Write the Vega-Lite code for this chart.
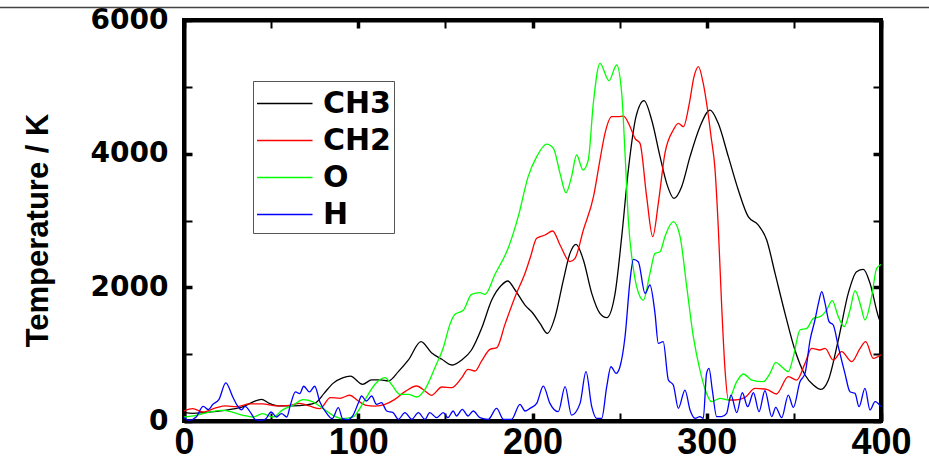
{
  "$schema": "https://vega.github.io/schema/vega-lite/v6.json",
  "width": 697,
  "height": 401,
  "autosize": "none",
  "padding": {"left": 184, "top": 20, "right": 48, "bottom": 39},
  "background": "white",
  "config": {
    "view": {"stroke": "black", "strokeWidth": 4},
    "axis": {"grid": false, "domainColor": "black", "domainWidth": 4, "tickColor": "black", "tickWidth": 2.5, "tickSize": -8, "labelColor": "black", "titleColor": "black", "labelFlush": false, "labelOverlap": false, "labelBound": false}
  },
  "datasets": {
    "temps": [
      {"s":"CH3","x":0,"y":130},{"s":"CH3","x":5,"y":115},{"s":"CH3","x":11,"y":125},{"s":"CH3","x":18.6,"y":145},{"s":"CH3","x":26,"y":170},{"s":"CH3","x":34,"y":215},{"s":"CH3","x":40,"y":290},{"s":"CH3","x":44.4,"y":325},{"s":"CH3","x":49,"y":265},{"s":"CH3","x":55,"y":225},{"s":"CH3","x":62.6,"y":225},{"s":"CH3","x":70,"y":240},{"s":"CH3","x":75.6,"y":275},{"s":"CH3","x":80.4,"y":414},{"s":"CH3","x":85.5,"y":563},{"s":"CH3","x":91,"y":645},{"s":"CH3","x":95.5,"y":670},{"s":"CH3","x":102.5,"y":549},{"s":"CH3","x":107.7,"y":614},{"s":"CH3","x":112.5,"y":614},{"s":"CH3","x":117.3,"y":599},{"s":"CH3","x":123,"y":739},{"s":"CH3","x":128.8,"y":914},{"s":"CH3","x":136,"y":1187},{"s":"CH3","x":142,"y":1022},{"s":"CH3","x":148,"y":923},{"s":"CH3","x":153.6,"y":838},{"s":"CH3","x":159.4,"y":914},{"s":"CH3","x":165,"y":1062},{"s":"CH3","x":170.8,"y":1387},{"s":"CH3","x":176.6,"y":1810},{"s":"CH3","x":182.3,"y":2035},{"s":"CH3","x":185.8,"y":2095},{"s":"CH3","x":190,"y":1960},{"s":"CH3","x":195.7,"y":1735},{"s":"CH3","x":200,"y":1620},{"s":"CH3","x":204.3,"y":1461},{"s":"CH3","x":208.5,"y":1311},{"s":"CH3","x":213,"y":1561},{"s":"CH3","x":217.7,"y":2109},{"s":"CH3","x":221.5,"y":2508},{"s":"CH3","x":225,"y":2643},{"s":"CH3","x":229.2,"y":2409},{"s":"CH3","x":234,"y":1910},{"s":"CH3","x":238.7,"y":1611},{"s":"CH3","x":242.6,"y":1546},{"s":"CH3","x":247.4,"y":1910},{"s":"CH3","x":251.2,"y":2758},{"s":"CH3","x":255,"y":3755},{"s":"CH3","x":259.4,"y":4553},{"s":"CH3","x":264,"y":4793},{"s":"CH3","x":268.4,"y":4504},{"s":"CH3","x":273.2,"y":3955},{"s":"CH3","x":277,"y":3556},{"s":"CH3","x":281.2,"y":3331},{"s":"CH3","x":285.6,"y":3506},{"s":"CH3","x":290.4,"y":3955},{"s":"CH3","x":296.1,"y":4404},{"s":"CH3","x":301.9,"y":4653},{"s":"CH3","x":306.6,"y":4454},{"s":"CH3","x":312.4,"y":3955},{"s":"CH3","x":318.1,"y":3456},{"s":"CH3","x":323.8,"y":3057},{"s":"CH3","x":329.6,"y":2932},{"s":"CH3","x":334.4,"y":2708},{"s":"CH3","x":339.2,"y":2209},{"s":"CH3","x":344.9,"y":1611},{"s":"CH3","x":350.6,"y":1062},{"s":"CH3","x":356.4,"y":688},{"s":"CH3","x":361.2,"y":538},{"s":"CH3","x":365.5,"y":473},{"s":"CH3","x":369.8,"y":613},{"s":"CH3","x":375.5,"y":1212},{"s":"CH3","x":381.2,"y":1910},{"s":"CH3","x":386,"y":2234},{"s":"CH3","x":389.9,"y":2269},{"s":"CH3","x":393.7,"y":2060},{"s":"CH3","x":398.5,"y":1561},{"s":"CH3","x":400,"y":1460},
      {"s":"CH2","x":0,"y":150},{"s":"CH2","x":5,"y":185},{"s":"CH2","x":11,"y":135},{"s":"CH2","x":18.6,"y":200},{"s":"CH2","x":24,"y":225},{"s":"CH2","x":30,"y":215},{"s":"CH2","x":37.7,"y":255},{"s":"CH2","x":45,"y":255},{"s":"CH2","x":53,"y":225},{"s":"CH2","x":60.6,"y":235},{"s":"CH2","x":66.4,"y":265},{"s":"CH2","x":72,"y":225},{"s":"CH2","x":78,"y":185},{"s":"CH2","x":84,"y":350},{"s":"CH2","x":89.5,"y":340},{"s":"CH2","x":95,"y":385},{"s":"CH2","x":100,"y":300},{"s":"CH2","x":104,"y":239},{"s":"CH2","x":109.6,"y":224},{"s":"CH2","x":115.3,"y":249},{"s":"CH2","x":121,"y":324},{"s":"CH2","x":126.8,"y":439},{"s":"CH2","x":133.5,"y":524},{"s":"CH2","x":138.3,"y":449},{"s":"CH2","x":142,"y":384},{"s":"CH2","x":148,"y":509},{"s":"CH2","x":153.6,"y":499},{"s":"CH2","x":159.4,"y":648},{"s":"CH2","x":163,"y":773},{"s":"CH2","x":167,"y":748},{"s":"CH2","x":170.8,"y":898},{"s":"CH2","x":175.6,"y":1072},{"s":"CH2","x":179.5,"y":1097},{"s":"CH2","x":184.2,"y":1446},{"s":"CH2","x":190,"y":1860},{"s":"CH2","x":195.7,"y":2210},{"s":"CH2","x":198.6,"y":2434},{"s":"CH2","x":202.4,"y":2733},{"s":"CH2","x":207.2,"y":2783},{"s":"CH2","x":211.6,"y":2843},{"s":"CH2","x":215.8,"y":2633},{"s":"CH2","x":221.5,"y":2384},{"s":"CH2","x":224.4,"y":2434},{"s":"CH2","x":229.2,"y":2858},{"s":"CH2","x":235,"y":3356},{"s":"CH2","x":238.7,"y":3905},{"s":"CH2","x":241.6,"y":4304},{"s":"CH2","x":245.5,"y":4553},{"s":"CH2","x":249.3,"y":4553},{"s":"CH2","x":252.2,"y":4563},{"s":"CH2","x":256,"y":4404},{"s":"CH2","x":258.8,"y":4229},{"s":"CH2","x":261.7,"y":4154},{"s":"CH2","x":265.5,"y":3356},{"s":"CH2","x":269,"y":2758},{"s":"CH2","x":272.2,"y":3257},{"s":"CH2","x":276,"y":4005},{"s":"CH2","x":280.8,"y":4354},{"s":"CH2","x":283.7,"y":4454},{"s":"CH2","x":286.6,"y":4404},{"s":"CH2","x":290,"y":4753},{"s":"CH2","x":292.7,"y":5152},{"s":"CH2","x":295.2,"y":5302},{"s":"CH2","x":298,"y":5050},{"s":"CH2","x":300.5,"y":4650},{"s":"CH2","x":302.5,"y":4250},{"s":"CH2","x":304.7,"y":3780},{"s":"CH2","x":306.6,"y":2907},{"s":"CH2","x":308.5,"y":1760},{"s":"CH2","x":310.5,"y":762},{"s":"CH2","x":312.4,"y":314},{"s":"CH2","x":316.2,"y":314},{"s":"CH2","x":322,"y":354},{"s":"CH2","x":327.7,"y":488},{"s":"CH2","x":334.4,"y":473},{"s":"CH2","x":340,"y":404},{"s":"CH2","x":346.8,"y":663},{"s":"CH2","x":351.6,"y":613},{"s":"CH2","x":356.4,"y":862},{"s":"CH2","x":360.2,"y":1087},{"s":"CH2","x":365,"y":1062},{"s":"CH2","x":367.9,"y":1087},{"s":"CH2","x":372.6,"y":912},{"s":"CH2","x":377.4,"y":1037},{"s":"CH2","x":383.2,"y":887},{"s":"CH2","x":388,"y":1087},{"s":"CH2","x":391.2,"y":1187},{"s":"CH2","x":395.6,"y":937},{"s":"CH2","x":400,"y":990},
      {"s":"O","x":0,"y":60},{"s":"O","x":7,"y":85},{"s":"O","x":15,"y":135},{"s":"O","x":22,"y":160},{"s":"O","x":28,"y":130},{"s":"O","x":34,"y":85},{"s":"O","x":39.6,"y":60},{"s":"O","x":45,"y":110},{"s":"O","x":51,"y":60},{"s":"O","x":56.8,"y":170},{"s":"O","x":62.6,"y":235},{"s":"O","x":68.3,"y":320},{"s":"O","x":74,"y":285},{"s":"O","x":79.8,"y":185},{"s":"O","x":85.5,"y":85},{"s":"O","x":91,"y":35},{"s":"O","x":97,"y":60},{"s":"O","x":100,"y":150},{"s":"O","x":104,"y":324},{"s":"O","x":109.6,"y":549},{"s":"O","x":115.3,"y":648},{"s":"O","x":119,"y":549},{"s":"O","x":124,"y":399},{"s":"O","x":128.8,"y":399},{"s":"O","x":133.5,"y":359},{"s":"O","x":138.3,"y":474},{"s":"O","x":144,"y":798},{"s":"O","x":148.8,"y":1097},{"s":"O","x":152.6,"y":1446},{"s":"O","x":155.5,"y":1596},{"s":"O","x":160.3,"y":1656},{"s":"O","x":165,"y":1895},{"s":"O","x":169.8,"y":1920},{"s":"O","x":172.7,"y":1895},{"s":"O","x":178.5,"y":2195},{"s":"O","x":186,"y":2584},{"s":"O","x":191.8,"y":3058},{"s":"O","x":197.5,"y":3657},{"s":"O","x":202.4,"y":3955},{"s":"O","x":208.1,"y":4144},{"s":"O","x":212,"y":4080},{"s":"O","x":215.8,"y":3706},{"s":"O","x":219.2,"y":3416},{"s":"O","x":222.4,"y":3656},{"s":"O","x":225.3,"y":3980},{"s":"O","x":229,"y":3755},{"s":"O","x":232,"y":3905},{"s":"O","x":234.9,"y":4753},{"s":"O","x":238.7,"y":5352},{"s":"O","x":243.9,"y":5092},{"s":"O","x":248.3,"y":5327},{"s":"O","x":251.2,"y":4903},{"s":"O","x":253.1,"y":4005},{"s":"O","x":255,"y":3007},{"s":"O","x":258,"y":2259},{"s":"O","x":261.7,"y":1860},{"s":"O","x":263.6,"y":1810},{"s":"O","x":267.4,"y":2209},{"s":"O","x":270.3,"y":2508},{"s":"O","x":273.2,"y":2533},{"s":"O","x":276,"y":2758},{"s":"O","x":280.8,"y":2982},{"s":"O","x":284.7,"y":2758},{"s":"O","x":288.5,"y":2010},{"s":"O","x":292.3,"y":1261},{"s":"O","x":296.1,"y":762},{"s":"O","x":299,"y":480},{"s":"O","x":302.8,"y":289},{"s":"O","x":307.6,"y":339},{"s":"O","x":312.4,"y":314},{"s":"O","x":317.2,"y":588},{"s":"O","x":321,"y":703},{"s":"O","x":325.8,"y":613},{"s":"O","x":332.5,"y":588},{"s":"O","x":336.3,"y":713},{"s":"O","x":339.6,"y":877},{"s":"O","x":343,"y":812},{"s":"O","x":346.8,"y":738},{"s":"O","x":349.7,"y":962},{"s":"O","x":353.5,"y":1361},{"s":"O","x":357.4,"y":1386},{"s":"O","x":361.2,"y":1536},{"s":"O","x":365,"y":1561},{"s":"O","x":368.8,"y":1660},{"s":"O","x":372,"y":1800},{"s":"O","x":375.5,"y":1561},{"s":"O","x":378.9,"y":1411},{"s":"O","x":382.2,"y":1660},{"s":"O","x":385.1,"y":1950},{"s":"O","x":388.5,"y":1710},{"s":"O","x":390.8,"y":1511},{"s":"O","x":394.6,"y":1860},{"s":"O","x":397.5,"y":2284},{"s":"O","x":400,"y":2340},
      {"s":"H","x":0,"y":50},{"s":"H","x":3,"y":10},{"s":"H","x":7,"y":60},{"s":"H","x":11,"y":220},{"s":"H","x":14,"y":170},{"s":"H","x":16.6,"y":250},{"s":"H","x":20,"y":320},{"s":"H","x":24,"y":570},{"s":"H","x":28,"y":360},{"s":"H","x":31,"y":215},{"s":"H","x":33,"y":165},{"s":"H","x":35,"y":220},{"s":"H","x":38.6,"y":110},{"s":"H","x":41,"y":20},{"s":"H","x":44.4,"y":10},{"s":"H","x":47,"y":35},{"s":"H","x":50,"y":135},{"s":"H","x":53,"y":60},{"s":"H","x":56,"y":110},{"s":"H","x":59,"y":60},{"s":"H","x":61,"y":235},{"s":"H","x":64,"y":435},{"s":"H","x":66.4,"y":410},{"s":"H","x":68.7,"y":520},{"s":"H","x":72,"y":435},{"s":"H","x":75,"y":520},{"s":"H","x":78,"y":285},{"s":"H","x":82,"y":110},{"s":"H","x":85,"y":35},{"s":"H","x":88.6,"y":200},{"s":"H","x":91,"y":35},{"s":"H","x":94,"y":20},{"s":"H","x":97,"y":85},{"s":"H","x":100,"y":265},{"s":"H","x":101.9,"y":374},{"s":"H","x":104.6,"y":299},{"s":"H","x":107.7,"y":374},{"s":"H","x":110.5,"y":249},{"s":"H","x":113.4,"y":274},{"s":"H","x":116.3,"y":150},{"s":"H","x":120,"y":125},{"s":"H","x":123,"y":25},{"s":"H","x":126.8,"y":125},{"s":"H","x":130.7,"y":25},{"s":"H","x":134.5,"y":125},{"s":"H","x":138.3,"y":25},{"s":"H","x":141,"y":125},{"s":"H","x":145,"y":50},{"s":"H","x":148.8,"y":125},{"s":"H","x":151.5,"y":50},{"s":"H","x":154.5,"y":150},{"s":"H","x":156.4,"y":75},{"s":"H","x":159.7,"y":174},{"s":"H","x":163,"y":75},{"s":"H","x":166,"y":150},{"s":"H","x":169.8,"y":50},{"s":"H","x":174.6,"y":25},{"s":"H","x":179.4,"y":189},{"s":"H","x":183.3,"y":25},{"s":"H","x":188,"y":25},{"s":"H","x":192.8,"y":249},{"s":"H","x":195.7,"y":150},{"s":"H","x":198.6,"y":189},{"s":"H","x":202.4,"y":264},{"s":"H","x":206.2,"y":523},{"s":"H","x":210,"y":264},{"s":"H","x":214.8,"y":139},{"s":"H","x":218.7,"y":513},{"s":"H","x":222.4,"y":89},{"s":"H","x":227.3,"y":264},{"s":"H","x":230.7,"y":738},{"s":"H","x":234,"y":214},{"s":"H","x":236.8,"y":40},{"s":"H","x":239.7,"y":40},{"s":"H","x":242.6,"y":513},{"s":"H","x":245,"y":812},{"s":"H","x":248,"y":713},{"s":"H","x":250.2,"y":812},{"s":"H","x":253.1,"y":1261},{"s":"H","x":256,"y":2109},{"s":"H","x":257.9,"y":2419},{"s":"H","x":260.7,"y":2384},{"s":"H","x":264.6,"y":1910},{"s":"H","x":267.4,"y":2035},{"s":"H","x":270.3,"y":1611},{"s":"H","x":272.2,"y":1162},{"s":"H","x":275,"y":1187},{"s":"H","x":278,"y":613},{"s":"H","x":280.8,"y":538},{"s":"H","x":283.7,"y":189},{"s":"H","x":287.5,"y":463},{"s":"H","x":290.4,"y":164},{"s":"H","x":293.3,"y":40},{"s":"H","x":296.1,"y":65},{"s":"H","x":298,"y":40},{"s":"H","x":299.9,"y":713},{"s":"H","x":301.3,"y":788},{"s":"H","x":303.2,"y":463},{"s":"H","x":305.7,"y":65},{"s":"H","x":308.5,"y":65},{"s":"H","x":311.4,"y":115},{"s":"H","x":313.9,"y":388},{"s":"H","x":317.2,"y":124},{"s":"H","x":320.4,"y":423},{"s":"H","x":323.5,"y":214},{"s":"H","x":326.8,"y":423},{"s":"H","x":330,"y":139},{"s":"H","x":333.4,"y":453},{"s":"H","x":337.3,"y":65},{"s":"H","x":339.6,"y":204},{"s":"H","x":343,"y":50},{"s":"H","x":346.8,"y":388},{"s":"H","x":349.7,"y":204},{"s":"H","x":353.5,"y":588},{"s":"H","x":356.4,"y":713},{"s":"H","x":359.3,"y":1212},{"s":"H","x":362.1,"y":1511},{"s":"H","x":364.1,"y":1760},{"s":"H","x":366,"y":1935},{"s":"H","x":367.9,"y":1760},{"s":"H","x":370.2,"y":1486},{"s":"H","x":372.6,"y":1436},{"s":"H","x":375.5,"y":1112},{"s":"H","x":379.3,"y":713},{"s":"H","x":382.2,"y":438},{"s":"H","x":385.1,"y":413},{"s":"H","x":387.4,"y":214},{"s":"H","x":390.8,"y":488},{"s":"H","x":393.7,"y":164},{"s":"H","x":396.6,"y":289},{"s":"H","x":400,"y":214}
    ]
  },
  "layer": [
    {
      "data": {"name": "temps"},
      "mark": {"type": "line", "interpolate": "monotone", "strokeWidth": 1.3, "clip": true},
      "encoding": {
        "x": {
          "field": "x", "type": "quantitative",
          "scale": {"domain": [0, 400], "nice": false, "zero": false},
          "axis": {
            "orient": "bottom", "title": null,
            "domainWidth": 4, "domainColor": "black",
            "values": [0, 50, 100, 150, 200, 250, 300, 350, 400],
            "labelExpr": "datum.value % 100 === 0 ? datum.label : ''",
            "format": "d",
            "labelFont": "Liberation Sans", "labelFontWeight": "bold", "labelFontSize": 36,
            "labelPadding": 12,
            "tickWidth": {"condition": {"test": "datum.value % 100 === 0", "value": 3.5}, "value": 2}
          }
        },
        "y": {
          "field": "y", "type": "quantitative",
          "scale": {"domain": [0, 6000], "nice": false, "zero": false},
          "axis": {
            "orient": "left",
            "title": "Temperature / K",
            "domainWidth": 4, "domainColor": "black",
            "values": [0, 1000, 2000, 3000, 4000, 5000, 6000],
            "labelExpr": "datum.value % 2000 === 0 ? datum.label : ''",
            "format": "d",
            "labelFont": "DejaVu Sans", "labelFontWeight": "bold", "labelFontSize": 28,
            "labelPadding": 24,
            "tickWidth": {"condition": {"test": "datum.value % 2000 === 0", "value": 3.5}, "value": 2},
            "titleFont": "Liberation Sans", "titleFontWeight": "bold", "titleFontSize": 31,
            "titleAngle": 270, "titleBaseline": "alphabetic", "titleAlign": "center",
            "titleX": -137, "titleY": 210
          }
        },
        "color": {
          "field": "s", "type": "nominal",
          "scale": {"domain": ["CH3", "CH2", "O", "H"], "range": ["#000000", "#ff0000", "#00ff00", "#0000ff"]},
          "legend": {
            "orient": "none", "legendX": 69, "legendY": 61,
            "title": null,
            "strokeColor": "#555555", "fillColor": "white", "padding": 3,
            "symbolType": "M-1,0H2", "symbolSize": 1369, "symbolStrokeWidth": 1.5,
            "labelFont": "DejaVu Sans", "labelFontWeight": "bold", "labelFontSize": 30,
            "labelColor": "black", "labelOffset": 28, "rowPadding": 2
          }
        }
      }
    },
    {
      "data": {"values": [{}]},
      "mark": {"type": "rule", "color": "#444444", "strokeWidth": 1.5, "clip": false},
      "encoding": {
        "x": {
          "datum": -106, "type": "quantitative",
          "axis": {"orient": "top", "title": null, "labels": false,
                   "domainWidth": 4, "domainColor": "black",
                   "values": [0, 50, 100, 150, 200, 250, 300, 350, 400],
                   "tickWidth": {"condition": {"test": "datum.value % 100 === 0", "value": 3.5}, "value": 2}}
        },
        "x2": {"datum": 428},
        "y": {
          "datum": 6187, "type": "quantitative",
          "axis": {"orient": "right", "title": null, "labels": false,
                   "domainWidth": 4, "domainColor": "black",
                   "values": [0, 1000, 2000, 3000, 4000, 5000, 6000],
                   "tickWidth": {"condition": {"test": "datum.value % 2000 === 0", "value": 3.5}, "value": 2}}
        }
      }
    }
  ],
  "resolve": {"axis": {"x": "independent", "y": "independent"}}
}
